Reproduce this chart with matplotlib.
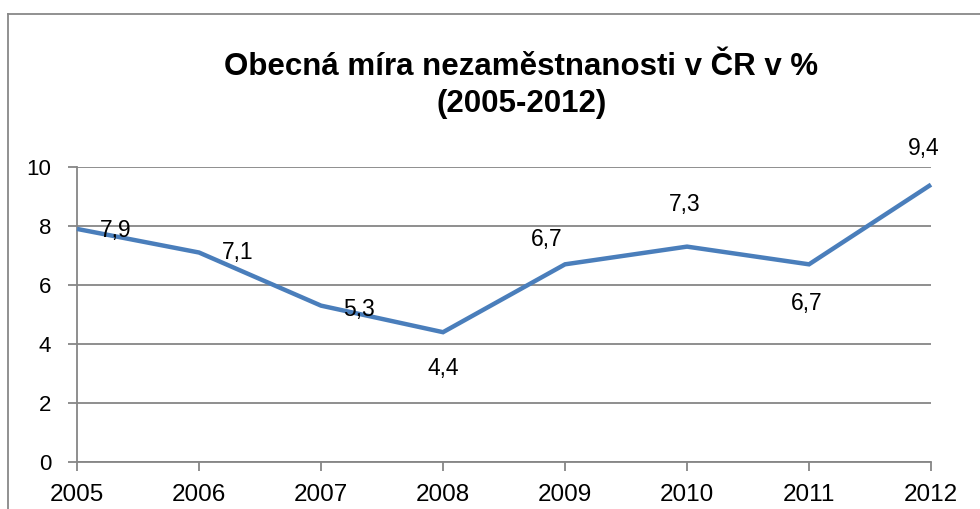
import matplotlib
matplotlib.use("Agg")

import matplotlib.pyplot as plt
from matplotlib.lines import Line2D

years = ["2005", "2006", "2007", "2008", "2009", "2010", "2011", "2012"]
rates = [7.9, 7.1, 5.3, 4.4, 6.7, 7.3, 6.7, 9.4]
rate_labels = ["7,9", "7,1", "5,3", "4,4", "6,7", "7,3", "6,7", "9,4"]
y_ticks = [0, 2, 4, 6, 8, 10]

title = "Obecná míra nezaměstnanosti v ČR v %\n(2005-2012)"

# label offsets in points (dx, dy), placed by hand like in the original
label_offsets = [(28, -1), (28, 0), (27, -3), (0, -26), (-13, 18), (-2, 30), (-2, -28), (-5, 26)]

LINE_COLOR = "#4A7EBB"
GRID_COLOR = "#868686"

plt.rcParams["font.family"] = ["Liberation Sans", "DejaVu Sans"]

fig = plt.figure(figsize=(9.8, 5.09), dpi=100)
ax = fig.add_axes([0.0786, 0.0923, 0.8714, 0.5797])

xs = list(range(len(years)))
ax.plot(xs, rates, color=LINE_COLOR, linewidth=3.2, solid_joinstyle="miter",
        solid_capstyle="butt", zorder=3, clip_on=False)

for x, y, lab, (dx, dy) in zip(xs, rates, rate_labels, label_offsets):
    ax.annotate(lab, (x, y), xytext=(dx, dy), textcoords="offset points",
                ha="center", va="center", fontsize=16.5, color="black", zorder=4)

ax.set_xlim(0, len(years) - 1)
ax.set_ylim(0, 10)
ax.set_xticks(xs)
ax.set_xticklabels(years)
ax.set_yticks(y_ticks)
ax.set_yticklabels([str(t) for t in y_ticks])

ax.yaxis.grid(True, color=GRID_COLOR, linewidth=1.3)
ax.set_axisbelow(True)
for side in ["top", "right"]:
    ax.spines[side].set_visible(False)
for side in ["left", "bottom"]:
    ax.spines[side].set_color(GRID_COLOR)
    ax.spines[side].set_linewidth(1.3)

ax.tick_params(axis="both", direction="out", length=6.5, width=1.3, color=GRID_COLOR)
ax.tick_params(axis="y", labelsize=16, pad=12)
ax.tick_params(axis="x", labelsize=17.5, pad=9)

fig.text(0.532, 0.832, title, ha="center", va="center", fontsize=22.5,
         fontweight="bold", linespacing=1.3)

# chart frame (only left and top edges visible in the crop)
fig.add_artist(Line2D([8 / 980, 8 / 980], [0, 1 - 14 / 509], color="#888888",
                      linewidth=1.3, transform=fig.transFigure))
fig.add_artist(Line2D([8 / 980, 1], [1 - 14 / 509, 1 - 14 / 509], color="#888888",
                      linewidth=1.3, transform=fig.transFigure))

fig.savefig("out.png", dpi=100)
